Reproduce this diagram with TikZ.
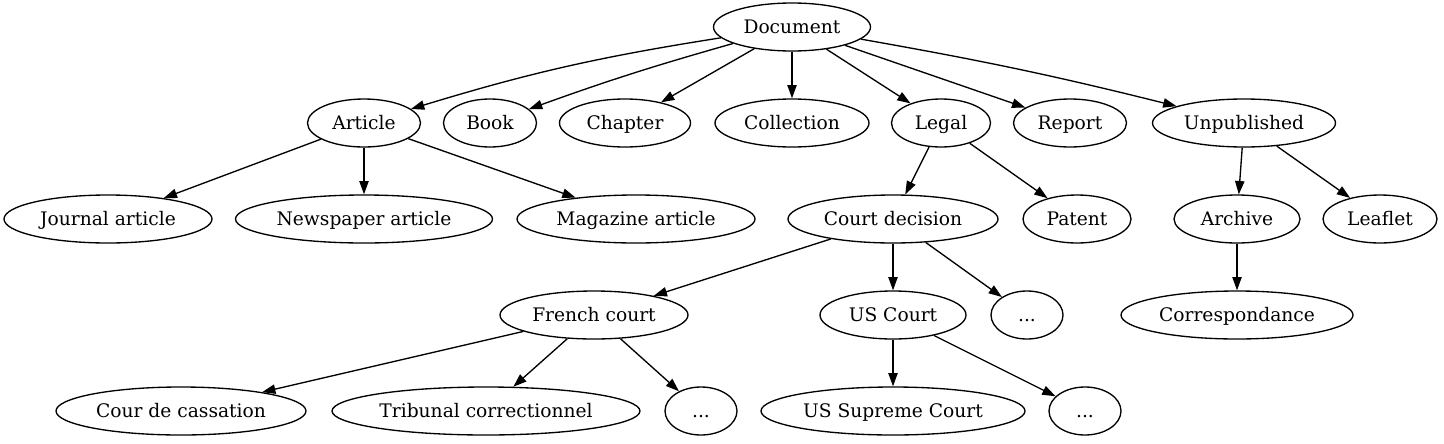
\documentclass[tikz,border=0pt]{standalone}
\usepackage{fontspec}
\setmainfont{DejaVu Serif}
\usetikzlibrary{shapes.geometric,arrows.meta}
\tikzset{
  gv/.style={ellipse, draw, line width=1pt, minimum height=36pt, inner sep=0pt,
    text height=10.2pt, text depth=0pt,
    font=\fontsize{14}{17}\selectfont},
  wd/.style={minimum width=#1*0.75pt},
  edge/.style={line width=1pt, -{Triangle[length=10pt,width=7pt]}}
}
\begin{document}
\begin{tikzpicture}[x=0.75pt,y=-0.75pt]
\useasboundingbox (0,0) rectangle (1444,443);
% row 1
\node[gv,wd=157] (doc) at (792,27) {Document};
% row 2
\node[gv,wd=113] (art) at (364,123) {Article};
\node[gv,wd=93]  (book) at (490,123) {Book};
\node[gv,wd=131] (chap) at (625,123) {Chapter};
\node[gv,wd=154] (coll) at (792,123) {Collection};
\node[gv,wd=99]  (legal) at (941,123) {Legal};
\node[gv,wd=113] (rep) at (1070,123) {Report};
\node[gv,wd=183] (unp) at (1244,123) {Unpublished};
% row 3
\node[gv,wd=208] (jour) at (108,219) {Journal article};
\node[gv,wd=257] (news) at (364,219) {Newspaper article};
\node[gv,wd=238] (mag) at (636,219) {Magazine article};
\node[gv,wd=210] (cdec) at (893,219) {Court decision};
\node[gv,wd=108] (pat) at (1077,219) {Patent};
\node[gv,wd=126] (arch) at (1237,219) {Archive};
\node[gv,wd=114] (leaf) at (1380,219) {Leaflet};
% row 4
\node[gv,wd=188] (fr) at (594,315) {French court};
\node[gv,wd=146] (us) at (893,315) {US Court};
\node[gv,wd=72]  (dotsA) at (1027,315) {...};
\node[gv,wd=232] (corr) at (1237,315) {Correspondance};
% row 5
\node[gv,wd=250] (cass) at (181,411) {Cour de cassation};
\node[gv,wd=308] (trib) at (486,411) {Tribunal correctionnel};
\node[gv,wd=72]  (dotsB) at (701,411) {...};
\node[gv,wd=264] (ussc) at (893,411) {US Supreme Court};
\node[gv,wd=72]  (dotsC) at (1085,411) {...};
% edges
\draw[edge] (doc) to[bend right=4] (art);
\draw[edge] (doc) to[bend right=2] (book);
\draw[edge] (doc) -- (chap);
\draw[edge] (doc) -- (coll);
\draw[edge] (doc) -- (legal);
\draw[edge] (doc) -- (rep);
\draw[edge] (doc) to[bend left=2] (unp);
\draw[edge] (art) -- (jour);
\draw[edge] (art) -- (news);
\draw[edge] (art) -- (mag);
\draw[edge] (legal) -- (cdec);
\draw[edge] (legal) -- (pat);
\draw[edge] (unp) -- (arch);
\draw[edge] (unp) -- (leaf);
\draw[edge] (cdec) -- (fr);
\draw[edge] (cdec) -- (us);
\draw[edge] (cdec) -- (dotsA);
\draw[edge] (arch) -- (corr);
\draw[edge] (fr) -- (cass);
\draw[edge] (fr) -- (trib);
\draw[edge] (fr) -- (dotsB);
\draw[edge] (us) -- (ussc);
\draw[edge] (us) -- (dotsC);
\end{tikzpicture}
\end{document}
